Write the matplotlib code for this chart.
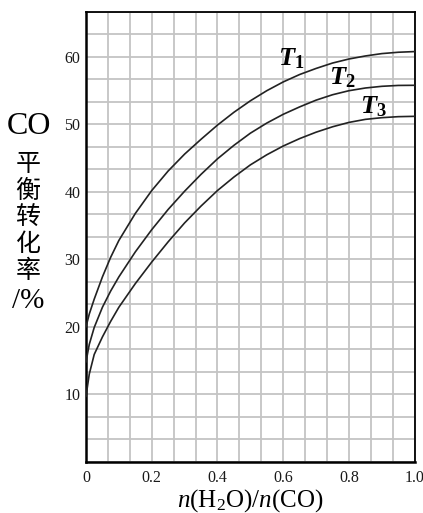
import numpy as np
import matplotlib
matplotlib.use('Agg')
import matplotlib.pyplot as plt
from matplotlib.ticker import FixedLocator

plt.rcParams['font.family'] = ['Liberation Serif', 'DejaVu Serif']
plt.rcParams['mathtext.fontset'] = 'custom'
plt.rcParams['mathtext.rm'] = 'Liberation Serif'
plt.rcParams['mathtext.it'] = 'Liberation Serif:italic'
plt.rcParams['mathtext.bf'] = 'Liberation Serif:bold'
plt.rcParams['mathtext.bfit'] = 'Liberation Serif:bold:italic'

# n(H2O)/n(CO) ratio and CO equilibrium conversion (%) at three temperatures
ratio = [0, 0.01, 0.025, 0.05, 0.075, 0.1, 0.15, 0.2, 0.25, 0.3, 0.35, 0.4, 0.45,
         0.5, 0.55, 0.6, 0.65, 0.7, 0.75, 0.8, 0.85, 0.9, 0.95, 1.0]
conv_t1 = [20.0, 21.9, 24.1, 27.4, 30.3, 32.8, 36.8, 40.2, 43.1, 45.6, 47.8, 49.9, 51.8,
           53.5, 55.0, 56.3, 57.4, 58.3, 59.1, 59.7, 60.15, 60.5, 60.7, 60.8]
conv_t2 = [14.8, 17.4, 19.9, 22.9, 25.3, 27.4, 31.1, 34.4, 37.4, 40.1, 42.6, 44.9, 46.9,
           48.7, 50.2, 51.5, 52.6, 53.6, 54.4, 55.0, 55.4, 55.65, 55.78, 55.8]
conv_t3 = [9.7, 13.0, 15.9, 18.5, 20.8, 22.9, 26.4, 29.6, 32.6, 35.4, 37.9, 40.2, 42.2,
           44.0, 45.5, 46.8, 47.9, 48.85, 49.65, 50.3, 50.75, 51.0, 51.15, 51.2]
curve_names = [r'$\mathbfit{T}_{\mathbf{1}}$', r'$\mathbfit{T}_{\mathbf{2}}$',
               r'$\mathbfit{T}_{\mathbf{3}}$']
name_pos = [(0.583, 58.8), (0.74, 56.0), (0.834, 51.65)]

x_ticks = [0, 0.2, 0.4, 0.6, 0.8, 1.0]
x_tick_labels = ['0', '0.2', '0.4', '0.6', '0.8', '1.0']
y_ticks = [10, 20, 30, 40, 50, 60]

W, H = 423, 513
fig = plt.figure(figsize=(W / 100, H / 100), dpi=100)
ax = fig.add_axes([86 / W, 1 - 461.7 / H, 328.7 / W, 449.7 / H])

for ys in (conv_t1, conv_t2, conv_t3):
    ax.plot(ratio, ys, color='#222222', lw=1.2, zorder=3)

for name, (tx, ty) in zip(curve_names, name_pos):
    ax.text(tx, ty, name, fontsize=19, color='black', ha='left', va='baseline', zorder=4)

ax.set_xlim(0, 1.0)
ax.set_ylim(0, 200 / 3)
ax.set_xticks(x_ticks)
ax.set_xticklabels(x_tick_labels)
ax.set_yticks(y_ticks)
ax.xaxis.set_minor_locator(FixedLocator(np.arange(0, 1.0001, 1 / 15)))
ax.yaxis.set_minor_locator(FixedLocator(np.arange(0, 66.7, 10 / 3)))
ax.grid(which='both', color='#c4c4c4', lw=1.3, zorder=0)
ax.set_axisbelow(True)
ax.tick_params(which='both', length=0, labelsize=11.5, colors='#1a1a1a')
ax.tick_params(axis='x', pad=6)
ax.tick_params(axis='y', pad=4)
for side in ('left', 'bottom'):
    ax.spines[side].set_linewidth(1.8)
for side in ('top', 'right'):
    ax.spines[side].set_linewidth(1.3)

ax.set_xlabel(r'$n$(H$_2$O)/$n$(CO)', fontsize=18, labelpad=1)

# stacked vertical axis title
fig.text(29 / W, 1 - 127 / H, 'CO', fontsize=23, ha='center', va='center')
for i, ch in enumerate('平衡转化率'):
    fig.text(28 / W, 1 - (164 + i * 26.8) / H, ch, fontsize=18, ha='center', va='center',
             family=['Noto Sans CJK SC', 'DejaVu Sans'])
fig.text(28 / W, 1 - 301 / H, '/%', fontsize=21, ha='center', va='center')

fig.savefig('out.png', dpi=100)
